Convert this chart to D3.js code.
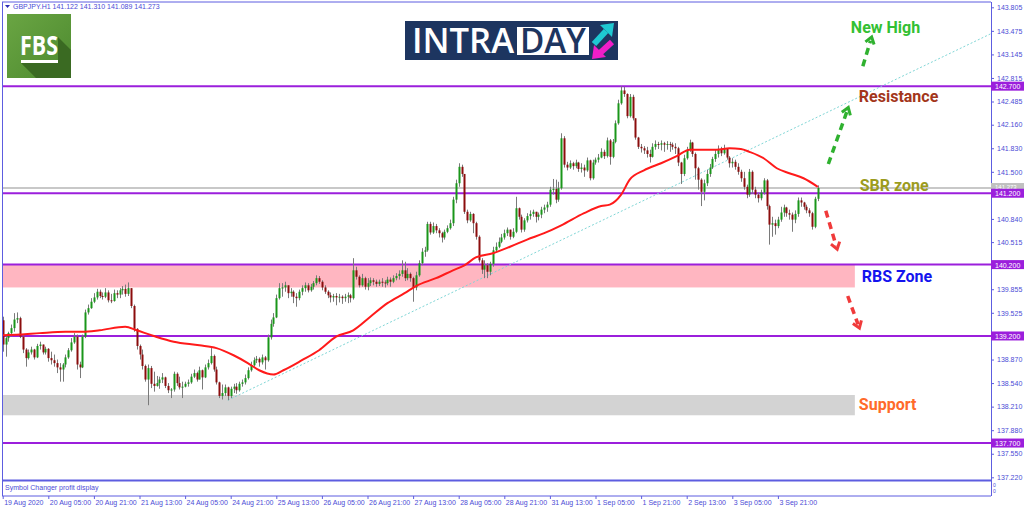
<!DOCTYPE html>
<html>
<head>
<meta charset="utf-8">
<script src="https://cdn.jsdelivr.net/npm/d3@7"></script>
<style>
  body { margin: 0; background: #fff; }
  svg { display: block; }
  text { font-family: "Liberation Sans", Arial, sans-serif; }
</style>
</head>
<body>
<svg id="chart"></svg>
<script>
// GBPJPY H1 candles (bar 0 = 19 Aug 13:00)
const firstOpen = 139.42;
const closes = [
  139.08,139.17,139.24,139.31,139.43,139.45,139.19,139.01,138.89,138.97,
  139.01,138.90,139.06,139.08,138.97,139.02,138.89,138.86,138.82,138.76,
  138.73,138.80,138.90,139.00,139.11,139.19,138.80,138.76,139.19,139.53,
  139.59,139.68,139.74,139.82,139.76,139.75,139.81,139.70,139.69,139.80,
  139.78,139.84,139.86,139.79,139.87,139.62,139.30,139.06,138.94,138.78,
  138.59,138.75,138.53,138.50,138.54,138.59,138.62,138.50,138.44,138.45,
  138.67,138.54,138.48,138.49,138.53,138.55,138.63,138.68,138.59,138.72,
  138.62,138.76,138.82,138.92,138.73,138.55,138.36,138.40,138.48,138.36,
  138.46,138.49,138.44,138.53,138.55,138.61,138.72,138.79,138.86,138.88,
  138.83,138.90,138.86,139.18,139.37,139.46,139.73,139.87,139.88,139.91,
  139.80,139.82,139.75,139.73,139.82,139.87,139.91,139.84,139.89,139.94,
  140.01,139.96,139.88,139.82,139.77,139.74,139.76,139.74,139.75,139.73,
  139.75,139.77,139.73,140.12,140.03,139.91,140.01,139.89,139.94,139.98,
  139.96,139.93,139.96,139.95,139.94,139.99,139.96,140.01,140.04,140.07,
  140.12,140.01,140.07,140.01,139.88,140.05,140.22,140.38,140.40,140.77,
  140.65,140.74,140.68,140.64,140.58,140.66,140.71,140.78,141.11,141.34,
  141.57,141.47,140.94,140.82,140.91,140.78,140.59,140.26,140.13,140.19,
  140.10,140.21,140.40,140.45,140.52,140.58,140.64,140.69,140.59,140.66,
  140.99,140.87,140.69,140.82,140.88,140.91,140.94,140.87,140.90,140.97,
  141.00,141.04,141.25,141.26,141.11,141.27,141.97,141.60,141.56,141.62,
  141.58,141.63,141.54,141.56,141.52,141.66,141.41,141.63,141.67,141.70,
  141.78,141.72,141.94,141.71,141.92,142.18,142.46,142.64,142.59,142.28,
  142.55,142.25,141.98,141.85,141.83,141.80,141.75,141.71,141.85,141.89,
  141.88,141.90,141.88,141.89,141.88,141.85,141.83,141.63,141.47,141.69,
  141.81,141.91,141.75,141.55,141.39,141.22,141.34,141.47,141.56,141.68,
  141.75,141.82,141.76,141.83,141.70,141.62,141.64,141.57,141.50,141.41,
  141.29,141.18,141.50,141.25,141.18,141.13,141.21,141.38,141.02,140.76,
  140.78,140.74,140.83,140.93,141.00,140.92,140.90,140.83,140.91,141.10,
  141.07,141.01,140.96,140.92,140.73,141.122,141.273
];
const highs = [
  139.47,139.22,139.26,139.36,139.52,139.53,139.47,139.22,139.03,139.01,
  139.05,139.02,139.09,139.12,139.06,139.05,139.03,138.98,138.94,138.87,
  138.82,138.82,138.94,139.03,139.17,139.24,139.22,138.84,139.22,139.57,
  139.64,139.73,139.80,139.86,139.85,139.81,139.87,139.84,139.79,139.85,
  139.84,139.87,139.90,139.92,139.95,139.86,139.64,139.31,139.08,139.01,
  138.80,138.80,138.78,138.70,138.64,138.63,138.68,138.63,138.54,138.47,
  138.70,138.69,138.63,138.56,138.56,138.59,138.67,138.73,138.70,138.77,
  138.73,138.80,138.87,139.03,138.94,138.77,138.56,138.52,138.52,138.49,
  138.49,138.53,138.54,138.56,138.59,138.66,138.76,138.84,138.90,138.92,
  138.90,138.94,138.92,139.22,139.43,139.52,139.78,139.94,139.94,139.96,
  139.91,139.87,139.84,139.80,139.85,139.91,139.95,139.94,139.93,139.97,
  140.05,140.04,139.98,139.91,139.84,139.81,139.79,139.80,139.79,139.77,
  139.79,139.81,139.79,140.29,140.17,140.05,140.07,140.03,140.01,140.02,
  140.01,139.99,139.99,140.01,139.98,140.03,140.02,140.05,140.08,140.12,
  140.26,140.24,140.15,140.09,140.03,140.10,140.26,140.43,140.45,140.80,
  140.80,140.79,140.77,140.71,140.66,140.69,140.75,140.83,141.15,141.39,
  141.62,141.60,141.47,140.97,140.94,140.92,140.80,140.61,140.29,140.26,
  140.22,140.24,140.45,140.51,140.58,140.63,140.69,140.72,140.69,140.71,
  141.15,141.00,140.90,140.85,140.92,140.96,140.97,140.94,140.93,141.01,
  141.04,141.08,141.29,141.40,141.39,141.36,142.04,142.00,141.64,141.66,
  141.64,141.67,141.64,141.62,141.60,141.70,141.67,141.67,141.70,141.75,
  141.83,141.81,141.98,141.96,141.96,142.22,142.51,142.70,142.69,142.60,
  142.59,142.58,142.24,141.99,141.89,141.86,141.85,141.81,141.90,141.94,
  141.92,141.94,141.92,141.93,141.92,141.91,141.90,141.85,141.64,141.74,
  141.85,141.95,141.92,141.77,141.57,141.41,141.39,141.53,141.61,141.71,
  141.81,141.87,141.85,141.88,141.83,141.72,141.69,141.67,141.62,141.53,
  141.50,141.32,141.54,141.52,141.29,141.21,141.25,141.41,141.40,141.04,
  140.87,140.83,140.87,141.01,141.04,141.01,140.97,140.93,140.96,141.14,
  141.14,141.08,141.04,140.99,140.94,141.15,141.310
];
const lows = [
  138.98,138.91,139.12,139.19,139.26,139.38,139.17,138.96,138.77,138.87,
  138.94,138.87,138.89,139.01,138.94,138.94,138.84,138.80,138.77,138.68,
  138.56,138.56,138.76,138.88,138.98,139.09,138.73,138.61,138.75,139.17,
  139.50,139.58,139.66,139.71,139.73,139.71,139.73,139.67,139.66,139.68,
  139.73,139.73,139.78,139.75,139.76,139.59,139.26,139.01,138.87,138.73,
  138.56,138.23,138.47,138.42,138.49,138.46,138.54,138.47,138.40,138.33,
  138.42,138.50,138.45,138.33,138.48,138.49,138.53,138.61,138.56,138.59,
  138.45,138.61,138.73,138.80,138.70,138.52,138.33,138.31,138.36,138.30,
  138.33,138.40,138.39,138.42,138.49,138.52,138.59,138.70,138.77,138.82,
  138.77,138.80,138.73,138.84,139.15,139.33,139.45,139.71,139.75,139.82,
  139.73,139.75,139.66,139.61,139.70,139.77,139.82,139.81,139.82,139.85,
  139.91,139.93,139.84,139.79,139.73,139.67,139.68,139.63,139.67,139.65,
  139.68,139.66,139.67,139.71,139.99,139.88,139.89,139.85,139.84,139.90,
  139.91,139.89,139.90,139.89,139.88,139.91,139.89,139.94,139.98,139.99,
  140.03,139.97,139.98,139.96,139.68,139.84,140.03,140.19,140.31,140.38,
  140.62,140.63,140.64,140.58,140.51,140.55,140.64,140.69,140.74,141.06,
  141.29,141.43,140.91,140.78,140.80,140.64,140.55,140.23,140.07,140.01,
  140.01,140.05,140.17,140.38,140.43,140.50,140.55,140.60,140.55,140.57,
  140.64,140.83,140.65,140.66,140.79,140.83,140.87,140.79,140.82,140.85,
  140.92,140.94,141.01,141.18,141.06,141.08,141.25,141.56,141.52,141.54,
  141.53,141.55,141.50,141.49,141.43,141.50,141.38,141.39,141.60,141.63,
  141.69,141.68,141.70,141.60,141.69,141.90,142.16,142.44,142.55,142.25,
  142.26,142.22,141.95,141.82,141.77,141.75,141.70,141.63,141.70,141.81,
  141.82,141.80,141.78,141.81,141.78,141.81,141.75,141.58,141.33,141.44,
  141.67,141.78,141.71,141.39,141.25,141.02,141.10,141.30,141.43,141.54,
  141.64,141.70,141.72,141.74,141.67,141.56,141.56,141.53,141.46,141.36,
  141.25,141.13,141.15,141.19,141.13,141.07,141.10,141.18,140.97,140.48,
  140.59,140.62,140.71,140.80,140.87,140.87,140.83,140.66,140.78,140.87,
  141.01,140.97,140.92,140.87,140.69,140.71,141.089
];

// red moving average
const maBars = [0,6,13,22,28,34,43,47,53,60,69,75,81,86,90,95,98.5,105,111,117,123,129,135,141,145,152,158,162,166,172,178,184,190,196,204,210,213,217,220,225,231,236.5,241,246,250.5,255,259,262,267,271.6,276,281,286];
const maValues = [139.21,139.22,139.24,139.26,139.26,139.28,139.33,139.28,139.20,139.12,139.07,139.03,138.93,138.82,138.72,138.66,138.72,138.86,139.00,139.19,139.28,139.47,139.66,139.80,139.90,140.01,140.12,140.19,140.30,140.36,140.45,140.55,140.64,140.75,140.92,141.02,141.04,141.18,141.39,141.52,141.62,141.72,141.81,141.81,141.81,141.83,141.82,141.78,141.69,141.55,141.48,141.41,141.29];

// dotted trend line (two anchors: bar, price)
const trendBars = [79, 347];
const trendPrices = [138.30, 143.44];

// horizontal levels
const levelPrices = [142.700, 141.200, 140.200, 139.200, 137.700];
const levelLabels = ["142.700", "141.200", "140.200", "139.200", "137.700"];
const bidPrice = 141.273;

// zones [top, bottom] and their right end (bar)
const rbsZone = [140.20, 139.88];
const supportZone = [138.373, 138.089];
const zoneEndBar = 299;

// price axis
const priceTicks = [143.805,143.475,143.145,142.815,142.485,142.160,141.830,141.500,141.170,140.840,140.515,140.185,139.855,139.525,139.195,138.870,138.540,138.210,137.880,137.550,137.220];

// time axis
const timeTickBars = [0,16,32,48,64,80,96,112,128,144,160,176,192,208,224,240,256,272];
const timeLabels = ["19 Aug 2020","20 Aug 05:00","20 Aug 21:00","21 Aug 13:00","24 Aug 05:00","24 Aug 21:00","25 Aug 13:00","26 Aug 05:00","26 Aug 21:00","27 Aug 13:00","28 Aug 05:00","28 Aug 21:00","31 Aug 13:00","1 Sep 05:00","1 Sep 21:00","2 Sep 13:00","3 Sep 05:00","3 Sep 21:00"];

// annotations (bar, price)
const notes = [
  { text: "New High",   bar: 297.6, price: 143.525, color: "#33c033" },
  { text: "Resistance", bar: 300.4, price: 142.560, color: "#a3361b" },
  { text: "SBR zone",   bar: 300.7, price: 141.316, color: "#9c9c1e" },
  { text: "RBS Zone",   bar: 301.4, price: 140.030, color: "#1414ee" },
  { text: "Support",    bar: 300.4, price: 138.247, color: "#ff6a2a" }
];
const arrows = [
  { from: [289.7, 141.61], to: [296.7, 142.40], color: "#2fb12f" },
  { from: [301.8, 142.98], to: [304.9, 143.39], color: "#2fb12f" },
  { from: [288.8, 140.955], to: [292.8, 140.415], color: "#f03a3a" },
  { from: [296.5, 139.76], to: [300.6, 139.31], color: "#f03a3a" }
];

const W = 1024, H = 511;
const axisColor = "#5d5de0";
const levelColor = "#9b1fdc";

const svg = d3.select('#chart').attr('width', W).attr('height', H);

const xScale = d3.scaleLinear().domain([0, 347]).range([2.7, 991.65]);
const yScale = d3.scaleLinear().domain([137.22, 143.805]).range([477.3, 7.3]);

svg.append('defs').append('clipPath').attr('id', 'plot')
   .append('rect').attr('x', 2).attr('y', 2).attr('width', 989).attr('height', 478);

const plot = svg.append('g').attr('clip-path', 'url(#plot)');

// zones
plot.append('rect')
    .attr('x', 2).attr('y', yScale(rbsZone[0]))
    .attr('width', xScale(zoneEndBar) - 2)
    .attr('height', yScale(rbsZone[1]) - yScale(rbsZone[0]))
    .attr('fill', '#ffb6c1');
plot.append('rect')
    .attr('x', 2).attr('y', yScale(supportZone[0]))
    .attr('width', xScale(zoneEndBar) - 2)
    .attr('height', yScale(supportZone[1]) - yScale(supportZone[0]))
    .attr('fill', '#d3d3d3');

// bid line
plot.append('line')
    .attr('x1', 2).attr('x2', 991)
    .attr('y1', yScale(bidPrice)).attr('y2', yScale(bidPrice))
    .attr('stroke', '#c8c8c8').attr('stroke-width', 2);

// levels
plot.selectAll('line.level')
    .data(levelPrices)
    .enter()
    .append('line')
    .attr('class', 'level')
    .attr('x1', 2).attr('x2', 991)
    .attr('y1', d => yScale(d)).attr('y2', d => yScale(d))
    .attr('stroke', levelColor).attr('stroke-width', 2);

// trend line
plot.append('line')
    .attr('x1', xScale(trendBars[0])).attr('y1', yScale(trendPrices[0]))
    .attr('x2', xScale(trendBars[1])).attr('y2', yScale(trendPrices[1]))
    .attr('stroke', '#7fd6d6').attr('stroke-width', 1)
    .attr('stroke-dasharray', '2,2');

// candles
const candles = closes.map((c, i) => {
  const o = i === 0 ? firstOpen : closes[i - 1];
  return { i, o, c, h: Math.max(highs[i], o, c), l: Math.min(lows[i], o, c) };
});

plot.selectAll('line.wick')
    .data(candles)
    .enter()
    .append('line')
    .attr('class', 'wick')
    .attr('x1', d => Math.round(xScale(d.i)) + 0.5)
    .attr('x2', d => Math.round(xScale(d.i)) + 0.5)
    .attr('y1', d => yScale(d.h))
    .attr('y2', d => yScale(d.l))
    .attr('stroke', '#7a7a7a').attr('stroke-width', 1);

plot.selectAll('rect.body')
    .data(candles)
    .enter()
    .append('rect')
    .attr('class', 'body')
    .attr('x', d => Math.round(xScale(d.i)) - 0.5)
    .attr('y', d => yScale(Math.max(d.o, d.c)))
    .attr('width', 2)
    .attr('height', d => Math.max(1, Math.abs(yScale(d.o) - yScale(d.c))))
    .attr('fill', d => d.c >= d.o ? '#1a961a' : '#8b0d0d');

// moving average
const maLine = d3.line()
    .x((d, k) => xScale(maBars[k]))
    .y(d => yScale(d))
    .curve(d3.curveMonotoneX);
plot.append('path')
    .datum(maValues)
    .attr('fill', 'none')
    .attr('stroke', '#ff1a1a')
    .attr('stroke-width', 2)
    .attr('d', maLine);

// dashed arrows
arrows.forEach(a => {
  const x1 = xScale(a.from[0]), y1 = yScale(a.from[1]);
  const x2 = xScale(a.to[0]), y2 = yScale(a.to[1]);
  const ang = Math.atan2(y2 - y1, x2 - x1);
  const len = Math.hypot(x2 - x1, y2 - y1);
  plot.append('line')
      .attr('x1', x1).attr('y1', y1)
      .attr('x2', x1 + Math.cos(ang) * (len - 4)).attr('y2', y1 + Math.sin(ang) * (len - 4))
      .attr('stroke', a.color).attr('stroke-width', 3.5)
      .attr('stroke-dasharray', '7,5');
  const s = 8, spread = 0.6;
  const p1 = [x2 - s * Math.cos(ang - spread), y2 - s * Math.sin(ang - spread)];
  const p2 = [x2 - s * Math.cos(ang + spread), y2 - s * Math.sin(ang + spread)];
  plot.append('polyline')
      .attr('points', `${p1.join(',')} ${x2},${y2} ${p2.join(',')}`)
      .attr('fill', 'none').attr('stroke', a.color).attr('stroke-width', 3);
});

// annotation texts
plot.selectAll('text.note')
    .data(notes)
    .enter()
    .append('text')
    .attr('class', 'note')
    .attr('x', d => xScale(d.bar))
    .attr('y', d => yScale(d.price))
    .attr('dy', '0.36em')
    .style('font-family', 'Roboto, sans-serif')
    .style('font-weight', 700)
    .style('font-size', '16px')
    .style('fill', d => d.color)
    .text(d => d.text);

// FBS logo
const fbsGrad = svg.select('defs').append('linearGradient')
    .attr('id', 'fbsg').attr('x1', 0).attr('y1', 0).attr('x2', 1).attr('y2', 1);
fbsGrad.append('stop').attr('offset', 0).attr('stop-color', '#6aa543');
fbsGrad.append('stop').attr('offset', 1).attr('stop-color', '#4d8a2f');
svg.append('rect').attr('x', 7).attr('y', 14).attr('width', 64).attr('height', 64).attr('fill', 'url(#fbsg)');
svg.append('polygon')
   .attr('points', '21,63 58,63 58,37 71,50 71,78 36,78')
   .attr('fill', '#3a6a22');
svg.append('text').attr('x', 20).attr('y', 55)
   .attr('textLength', 38).attr('lengthAdjust', 'spacingAndGlyphs')
   .style('font-family', '"Open Sans", sans-serif').style('font-weight', 700)
   .style('font-size', '27px').style('fill', '#fff').text('FBS');
svg.append('rect').attr('x', 21).attr('y', 60).attr('width', 37).attr('height', 3).attr('fill', '#fff');

// INTRADAY logo
svg.append('rect').attr('x', 405).attr('y', 21).attr('width', 213).attr('height', 39).attr('fill', '#1d3560');
svg.append('text').attr('x', 412).attr('y', 53)
   .attr('textLength', 102).attr('lengthAdjust', 'spacingAndGlyphs')
   .style('font-family', '"Open Sans", sans-serif').style('font-weight', 600)
   .style('font-size', '35px').style('fill', '#fff').text('INTRA');
svg.append('rect').attr('x', 517).attr('y', 27).attr('width', 72).attr('height', 28).attr('fill', '#fff');
svg.append('text').attr('x', 520).attr('y', 53)
   .attr('textLength', 66).attr('lengthAdjust', 'spacingAndGlyphs')
   .style('font-family', '"Open Sans", sans-serif').style('font-weight', 600)
   .style('font-size', '35px').style('fill', '#1d3560').text('DAY');
svg.append('line').attr('x1', 594).attr('y1', 44).attr('x2', 606).attr('y2', 31)
   .attr('stroke', '#1ec8d2').attr('stroke-width', 6);
svg.append('polygon').attr('points', '614,23 600,25 612,37').attr('fill', '#1ec8d2');
svg.append('line').attr('x1', 612).attr('y1', 42).attr('x2', 600).attr('y2', 53)
   .attr('stroke', '#f01ec8').attr('stroke-width', 6);
svg.append('polygon').attr('points', '592,59 606,57 594,45').attr('fill', '#f01ec8');

// frame
svg.append('line').attr('x1', 2).attr('x2', 991).attr('y1', 2).attr('y2', 2).attr('stroke', axisColor);
svg.append('line').attr('x1', 2.5).attr('x2', 2.5).attr('y1', 2).attr('y2', 496).attr('stroke', axisColor);
svg.append('line').attr('x1', 2).attr('x2', 991).attr('y1', 480.5).attr('y2', 480.5).attr('stroke', axisColor).attr('stroke-width', 2);
svg.append('line').attr('x1', 2).attr('x2', 991).attr('y1', 496).attr('y2', 496).attr('stroke', axisColor);

// price axis (labels that sit under a level tag are covered, as in MT4)
const tagY = new Set(levelPrices.map(p => Math.round(yScale(p))));
const yAxis = svg.append('g')
   .attr('transform', 'translate(991,0)')
   .call(d3.axisRight(yScale).tickValues(priceTicks).tickFormat(d3.format('.3f')).tickSize(3).tickPadding(3));
yAxis.select('.domain').attr('stroke', axisColor).attr('d', 'M0.5,2V496');
yAxis.selectAll('.tick line').attr('stroke', axisColor);
yAxis.selectAll('.tick text').style('font-size', '7px').style('fill', '#4b4bd6')
     .style('font-family', '"Liberation Sans", Arial, sans-serif');
yAxis.selectAll('.tick text')
     .filter(d => [...tagY].some(t => Math.abs(t - yScale(d)) < 5))
     .style('display', 'none');

// bid label and level labels
const tagW = 33;
const bidY = yScale(bidPrice) - 1;
svg.append('rect').attr('x', 991).attr('y', bidY - 4).attr('width', tagW).attr('height', 8).attr('fill', '#c0c0c0');
svg.append('text').attr('x', 995).attr('y', bidY).attr('dy', '0.33em')
   .style('font-size', '6px').style('fill', '#fff').text(bidPrice.toFixed(3));
svg.selectAll('g.tag')
   .data(levelPrices)
   .enter()
   .append('g')
   .attr('class', 'tag')
   .each(function (d, k) {
     const g = d3.select(this);
     g.append('rect').attr('x', 991).attr('y', yScale(d) - 4.5).attr('width', tagW).attr('height', 9).attr('fill', levelColor);
     g.append('text').attr('x', 995).attr('y', yScale(d) + 0.5).attr('dy', '0.35em')
      .style('font-size', '7px').style('fill', '#fff').text(levelLabels[k]);
   });

// header
svg.append('path').attr('d', 'M5,5 L10,5 L7.5,8 Z').attr('fill', '#2a2ab4');
svg.append('text').attr('x', 13).attr('y', 7).attr('dy', '0.35em')
   .style('font-size', '7px').style('fill', '#4b4bd6')
   .text('GBPJPY.H1  141.122 141.310 141.089 141.273');

// sub window
svg.append('text').attr('x', 5).attr('y', 488).attr('dy', '0.35em')
   .style('font-size', '7px').style('fill', '#4b4bd6').text('Symbol Changer profit display');
svg.append('text').attr('x', 993).attr('y', 485).attr('dy', '0.35em')
   .style('font-size', '5px').style('fill', '#4b4bd6').text('0');
svg.append('text').attr('x', 993).attr('y', 491).attr('dy', '0.35em')
   .style('font-size', '5px').style('fill', '#4b4bd6').text('0');

// time axis
const xAxis = svg.append('g')
   .attr('transform', 'translate(0,496)')
   .call(d3.axisBottom(xScale).tickValues(timeTickBars).tickFormat((d, k) => timeLabels[k]).tickSize(3).tickPadding(1));
xAxis.select('.domain').remove();
xAxis.selectAll('.tick line').attr('stroke', axisColor);
xAxis.selectAll('.tick text')
     .style('text-anchor', 'start')
     .attr('x', 1)
     .style('font-size', '7px').style('fill', '#4b4bd6')
     .style('font-family', '"Liberation Sans", Arial, sans-serif');
</script>
</body>
</html>
